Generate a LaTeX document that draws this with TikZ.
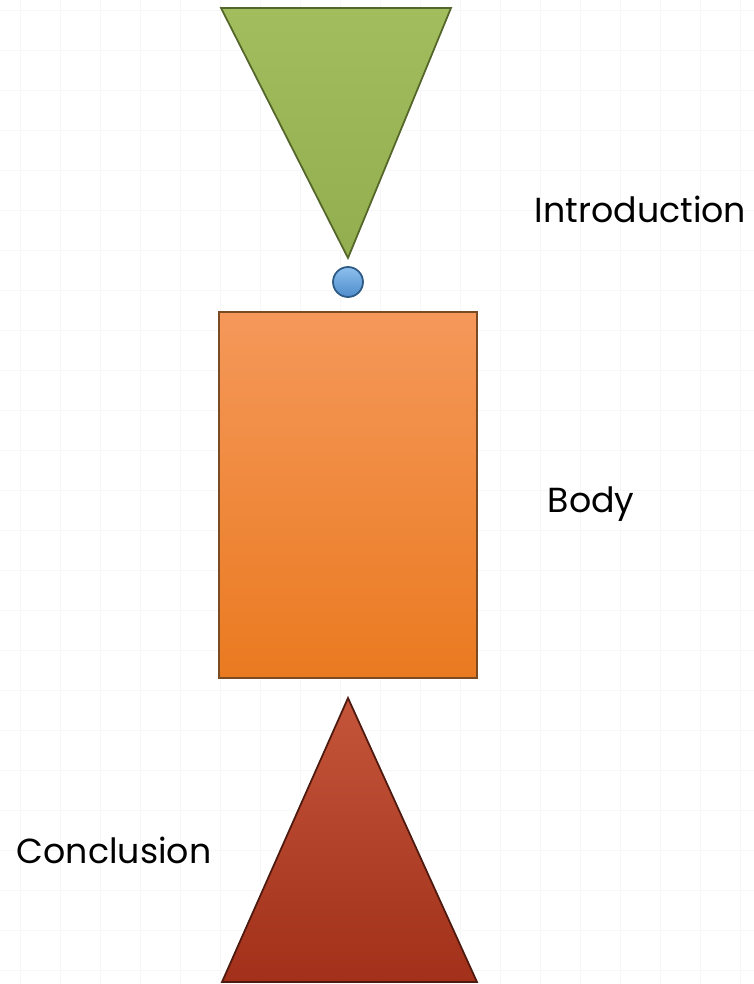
\documentclass[tikz,border=0pt]{standalone}
\usepackage{fontspec}
\setmainfont{Poppins}
\definecolor{introtop}{HTML}{A2BD5E}
\definecolor{introbot}{HTML}{93AE4E}
\definecolor{introline}{HTML}{55662A}
\definecolor{bodytop}{HTML}{F5985A}
\definecolor{bodybot}{HTML}{EA7A20}
\definecolor{bodyline}{HTML}{7A4A22}
\definecolor{conctop}{HTML}{C4553A}
\definecolor{concbot}{HTML}{A2301A}
\definecolor{concline}{HTML}{4E1A10}
\definecolor{dottop}{HTML}{8CC0EE}
\definecolor{dotbot}{HTML}{4F8CCB}
\definecolor{dotline}{HTML}{2E5A86}
\begin{document}
\begin{tikzpicture}[x=0.02cm, y=-0.02cm, line width=1pt,
  label/.style={font=\fontsize{19.8}{24}\selectfont, inner sep=0pt}]
  \useasboundingbox (0,0) rectangle (754,984);
  \coordinate (IL) at (221,8); \coordinate (IR) at (451,8); \coordinate (IA) at (348,258);
  \coordinate (BT) at (219,312); \coordinate (BB) at (477,678);
  \coordinate (CA) at (348,698); \coordinate (CL) at (222,982); \coordinate (CR) at (477,982);
  \coordinate (P) at (348,282);
  % faint grid
  \foreach \gx in {20,60,...,740} \draw[black!3, line width=0.5pt] (\gx,0) -- (\gx,984);
  \foreach \gy in {10,50,...,970} \draw[black!3, line width=0.5pt] (0,\gy) -- (754,\gy);
  % shapes
  \shadedraw[top color=introtop, bottom color=introbot, draw=introline] (IL) -- (IR) -- (IA) -- cycle;
  \shadedraw[top color=dottop, bottom color=dotbot, draw=dotline] (P) circle[radius=15];
  \shadedraw[top color=bodytop, bottom color=bodybot, draw=bodyline] (BT) rectangle (BB);
  \shadedraw[top color=conctop, bottom color=concbot, draw=concline] (CA) -- (CR) -- (CL) -- cycle;
  % labels
  \node[label, anchor=base west] (intro) at (534,222) {Introduction};
  \node[label, anchor=base west] (body) at (547,512) {Body};
  \node[label, anchor=base west] (conc) at (16,863) {Conclusion};
\end{tikzpicture}
\end{document}
